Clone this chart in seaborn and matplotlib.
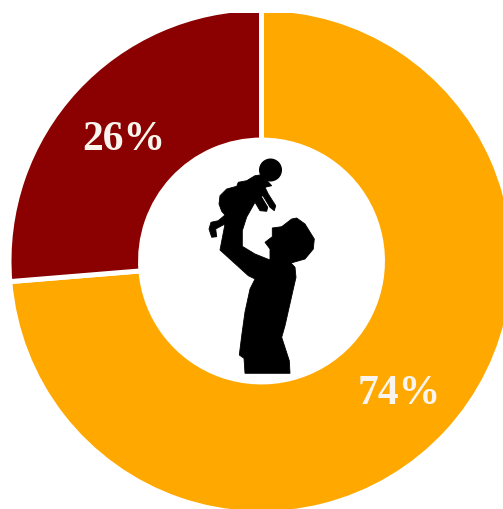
import matplotlib
matplotlib.use("Agg")
import matplotlib.pyplot as plt
import seaborn as sns
from matplotlib.patches import Ellipse

# ----------------------------------------------------------
# DATA
# ----------------------------------------------------------

shares = [73.7, 26.3]
slice_colors = ["#FFA800", "#8B0000"]

# man + baby outline, image pixels
figure_x = [261.7, 255, 246.7, 238.3, 236.7, 226.7, 220, 219, 221.7, 225, 218.3, 211,
            209, 211.7, 216.7, 215.7, 225, 220, 248.3, 255, 250, 245, 241.7, 239.3,
            244, 245, 290, 289.3, 281.7, 285, 293.3, 296, 295, 291, 305, 313.3,
            314.3, 305, 296.7, 291.7, 281.7, 272.3, 272.3, 265, 270, 270, 255, 242.3,
            242.3, 246.7, 255, 260, 266.7, 267.7, 261.7, 262.3, 270, 274.3, 275.7,
            268.3, 265, 271.7]
figure_y = [175.7, 176.7, 181.7, 183.3, 187.3, 190, 196.7, 205, 212.3, 216, 221.7, 223.3,
            230, 238.3, 237.7, 230, 225, 251, 276.7, 280, 290, 313, 336.7, 356,
            359.3, 374.3, 374.3, 361.7, 338.3, 326.7, 290, 278.3, 268.3, 264, 260, 250,
            240, 225, 219, 220, 227.7, 229, 237.7, 243.3, 250, 261, 255, 247.3,
            231.7, 218, 203.3, 211.7, 212.3, 208.3, 198.3, 195.7, 208.3, 211.7, 206.7,
            195, 188.3, 186.7]

# ----------------------------------------------------------
# PLOT
# ----------------------------------------------------------

sns.set_theme(style="white")
plt.rcParams['font.family'] = ['Liberation Serif', 'DejaVu Serif']

W, H = 503, 510
cx, cy = 261.5, 262
R = 252.5      # outer edge incl. the white stroke
top_cut = 14   # the ring is cut flat at the top of the picture

fig = plt.figure(figsize=(W / 100, H / 100), dpi=100)
ax = fig.add_axes([0, 0, 1, (H - top_cut) / H])

wedges, texts, pcts = ax.pie(
    shares,
    colors=slice_colors,
    startangle=90,
    counterclock=False,
    autopct='%.0f%%',
    pctdistance=0.74,
    wedgeprops=dict(width=0.521, edgecolor='white', linewidth=3.6),
)
for w in wedges:
    w.set_clip_on(True)   # pie turns clipping off
for t in pcts:
    t.set_color('#F9F5EE')
    t.set_fontsize(30)
    t.set_fontweight('bold')
    x, y = t.get_position()
    t.set_position((x, y - 5 / R))

ax.set_xlim(-cx / R, (W - cx) / R)
ax.set_ylim(-(H - cy) / R, (cy - top_cut) / R)
ax.axis('off')

# silhouette in the hole
ax2 = fig.add_axes([0, 0, 1, 1])
ax2.set_xlim(0, W)
ax2.set_ylim(H, 0)
ax2.axis('off')
ax2.fill(figure_x, figure_y, color='black', lw=0.6)
ax2.add_patch(Ellipse((270.5, 171), 23, 23, color='black', lw=0))

fig.savefig("out.png", dpi=100)
